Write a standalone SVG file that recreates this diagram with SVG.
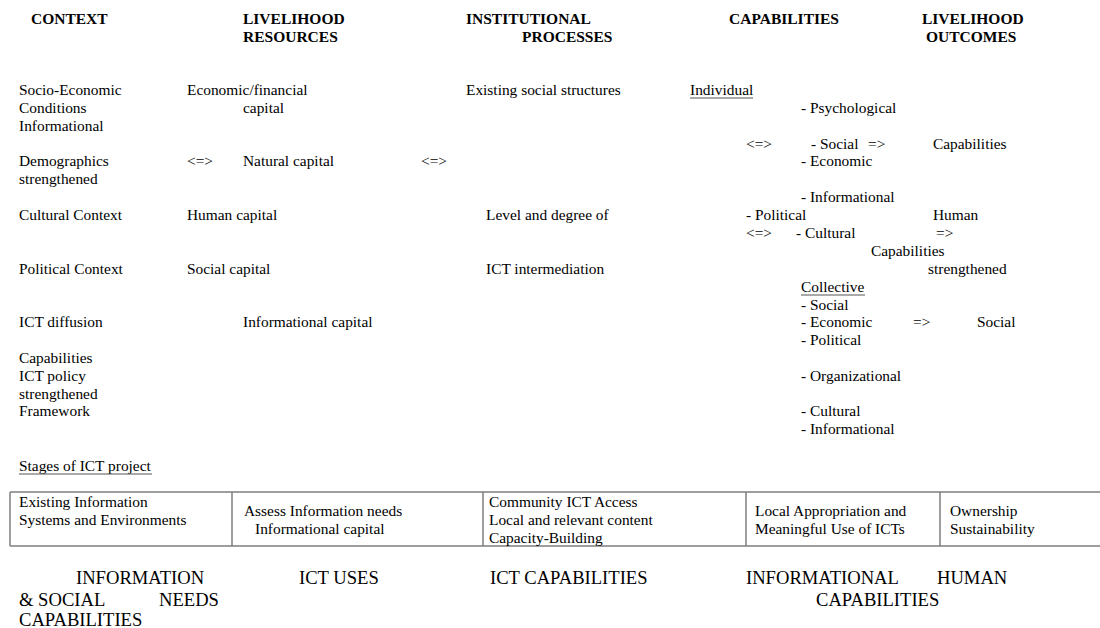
<svg xmlns="http://www.w3.org/2000/svg" width="1100" height="628" viewBox="0 0 1100 628">
<style>
text{font-family:"Liberation Serif","Times New Roman",serif;fill:#000;}
.h{font-size:15.5px;font-weight:bold;}
.t{font-size:15.4px;}
.b{font-size:18.6px;}
.ul{stroke:#555;stroke-width:1;}
.tb{stroke:#7f7f7f;stroke-width:1.5;fill:none;}
</style>
<rect width="1100" height="628" fill="#fff"/>
<g id="headers">
<text class="h" x="31" y="24">CONTEXT</text>
<text class="h" x="243" y="24">LIVELIHOOD</text>
<text class="h" x="243" y="42">RESOURCES</text>
<text class="h" x="466" y="24">INSTITUTIONAL</text>
<text class="h" x="522" y="42">PROCESSES</text>
<text class="h" x="729" y="24">CAPABILITIES</text>
<text class="h" x="922" y="24">LIVELIHOOD</text>
<text class="h" x="926" y="42">OUTCOMES</text>
</g>
<g id="context">
<text class="t" x="19" y="95">Socio-Economic</text>
<text class="t" x="19" y="113">Conditions</text>
<text class="t" x="19" y="131">Informational</text>
<text class="t" x="19" y="166">Demographics</text>
<text class="t" x="19" y="184">strengthened</text>
<text class="t" x="19" y="220">Cultural Context</text>
<text class="t" x="19" y="274">Political Context</text>
<text class="t" x="19" y="327">ICT diffusion</text>
<text class="t" x="19" y="363">Capabilities</text>
<text class="t" x="19" y="381">ICT policy</text>
<text class="t" x="19" y="399">strengthened</text>
<text class="t" x="19" y="416">Framework</text>
</g>
<g id="resources">
<text class="t" x="187" y="95">Economic/financial</text>
<text class="t" x="243" y="113">capital</text>
<text class="t" x="243" y="166">Natural capital</text>
<text class="t" x="187" y="220">Human capital</text>
<text class="t" x="187" y="274">Social capital</text>
<text class="t" x="243" y="327">Informational capital</text>
</g>
<g id="processes">
<text class="t" x="466" y="95">Existing social structures</text>
<text class="t" x="486" y="220">Level and degree of</text>
<text class="t" x="486" y="274">ICT intermediation</text>
</g>
<g id="capabilities">
<text class="t" x="690" y="95">Individual</text>
<line class="ul" x1="690" y1="98" x2="753" y2="98"/>
<text class="t" x="801" y="113">- Psychological</text>
<text class="t" x="811" y="149">- Social</text>
<text class="t" x="801" y="166">- Economic</text>
<text class="t" x="801" y="202">- Informational</text>
<text class="t" x="746" y="220">- Political</text>
<text class="t" x="796" y="238">- Cultural</text>
<text class="t" x="801" y="292">Collective</text>
<line class="ul" x1="801" y1="295" x2="865" y2="295"/>
<text class="t" x="801" y="310">- Social</text>
<text class="t" x="801" y="327">- Economic</text>
<text class="t" x="801" y="345">- Political</text>
<text class="t" x="801" y="381">- Organizational</text>
<text class="t" x="801" y="416">- Cultural</text>
<text class="t" x="801" y="434">- Informational</text>
</g>
<g id="outcomes">
<text class="t" x="933" y="149">Capabilities</text>
<text class="t" x="933" y="220">Human</text>
<text class="t" x="871" y="256">Capabilities</text>
<text class="t" x="928" y="274">strengthened</text>
<text class="t" x="977" y="327">Social</text>
</g>
<g id="connectors">
<text class="t" x="187" y="166">&lt;=&gt;</text>
<text class="t" x="421" y="166">&lt;=&gt;</text>
<text class="t" x="746" y="149">&lt;=&gt;</text>
<text class="t" x="868" y="149">=&gt;</text>
<text class="t" x="746" y="238">&lt;=&gt;</text>
<text class="t" x="936" y="238">=&gt;</text>
<text class="t" x="913" y="327">=&gt;</text>
</g>
<g id="stages">
<text class="t" x="19" y="471">Stages of ICT project</text>
<line class="ul" x1="19" y1="474" x2="152" y2="474"/>
<path class="tb" d="M10 492H1100M10 546H1100M10 492V546M232 492V546M483 492V546M746 492V546M940 492V546"/>
<text class="t" x="19" y="507">Existing Information</text>
<text class="t" x="19" y="525">Systems and Environments</text>
<text class="t" x="244" y="516">Assess Information needs</text>
<text class="t" x="255" y="534">Informational capital</text>
<text class="t" x="489" y="507">Community ICT Access</text>
<text class="t" x="489" y="525">Local and relevant content</text>
<text class="t" x="489" y="543">Capacity-Building</text>
<text class="t" x="755" y="516">Local Appropriation and</text>
<text class="t" x="755" y="534">Meaningful Use of ICTs</text>
<text class="t" x="950" y="516">Ownership</text>
<text class="t" x="950" y="534">Sustainability</text>
</g>
<g id="bottom">
<text class="b" x="76" y="584">INFORMATION</text>
<text class="b" x="19" y="606">&amp; SOCIAL</text>
<text class="b" x="159" y="606">NEEDS</text>
<text class="b" x="19" y="626">CAPABILITIES</text>
<text class="b" x="299" y="584">ICT USES</text>
<text class="b" x="490" y="584">ICT CAPABILITIES</text>
<text class="b" x="746" y="584">INFORMATIONAL</text>
<text class="b" x="937" y="584">HUMAN</text>
<text class="b" x="816" y="606">CAPABILITIES</text>
</g>
</svg>
